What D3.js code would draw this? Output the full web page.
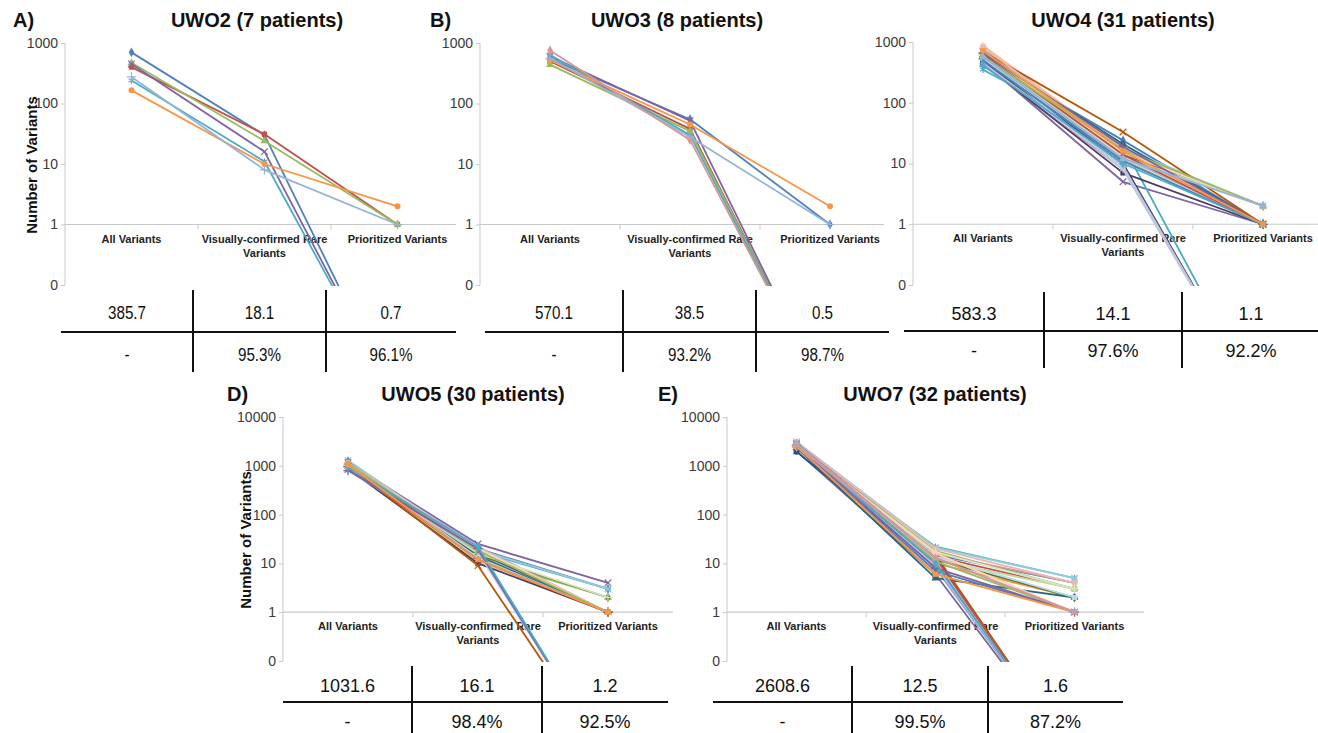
<!DOCTYPE html>
<html>
<head>
<meta charset="utf-8">
<script src="https://cdn.jsdelivr.net/npm/d3@7"></script>
<style>
  body { margin: 0; background: #fff; }
  svg { display: block; font-family: Arial, "Liberation Sans", sans-serif; }
</style>
</head>
<body>
<svg id="chart" width="1318" height="733"></svg>
<script>
// ---- data ----
var categories = [["All Variants"], ["Visually-confirmed Rare", "Variants"], ["Prioritized Variants"]];
var titles = ["UWO2 (7 patients)", "UWO3 (8 patients)", "UWO4 (31 patients)", "UWO5 (30 patients)", "UWO7 (32 patients)"];

// UWO2 - one value per patient for each filtering step
var allA = [700, 400, 470, 450, 240, 165, 275];
var vcA  = [30, 31, 24, 16, 11, 10, 8];
var prA  = [0, 1, 1, 0, 0, 2, 1];

// UWO3
var allB = [550, 500, 440, 600, 640, 520, 560, 751];
var vcB  = [55, 38, 35, 52, 30, 45, 28, 25];
var prB  = [1, 0, 0, 0, 0, 2, 1, 0];

// UWO4
var allC = [520, 480, 610, 462, 350, 560, 640, 700, 590, 420, 760, 880, 470, 530, 650, 440,
            610, 700, 560, 820, 600, 450, 540, 680, 500, 620, 580, 660, 410, 720, 570];
var vcC  = [24, 12, 15, 5, 20, 11, 9, 16, 13, 8, 18, 17, 10, 12, 14, 7,
            21, 33, 8, 16, 13, 9, 12, 15, 11, 14, 17, 19, 10, 16, 12];
var prC  = [1, 1, 2, 1, 0, 1, 0, 2, 1, 0, 2, 1, 0, 1, 2, 1,
            1, 1, 0, 2, 2, 0, 1, 2, 1, 1, 2, 1, 1, 1, 2];

// UWO5
var allD = [1250, 1200, 980, 1150, 1200, 950, 1080, 1020, 900, 1130, 1280, 1000, 1178, 970, 1110,
            880, 1040, 1000, 820, 1170, 930, 860, 1010, 1090, 840, 990, 1120, 800, 950, 1050];
var vcD  = [20, 15, 13, 25, 18, 12, 16, 14, 11, 22, 19, 12, 17, 13, 15,
            10, 14, 9, 18, 21, 16, 17, 13, 20, 19, 12, 18, 20, 22, 12];
var prD  = [3, 1, 2, 4, 3, 1, 1, 1, 1, 1, 3, 1, 1, 1, 2,
            1, 1, 0, 0, 1, 2, 0, 1, 1, 0, 1, 1, 0, 0, 1];

// UWO7
var allE = [2400, 2500, 2800, 2000, 2600, 2700, 2400, 2900, 2525, 2650, 3100, 2750, 1950, 2550, 2450, 2700,
            2350, 2850, 2500, 3050, 2600, 2450, 2800, 2700, 2400, 2900, 2550, 2650, 2750, 2500, 2850, 2600];
var vcE  = [15, 14, 18, 6, 22, 10, 8, 16, 12, 11, 21, 13, 9, 14, 12, 10,
            5, 15, 12, 20, 17, 9, 14, 16, 7, 13, 11, 8, 10, 6, 13, 13];
var prE  = [4, 3, 3, 0, 5, 2, 0, 4, 3, 0, 5, 2, 0, 0, 2, 0,
            2, 0, 0, 4, 3, 0, 2, 1, 1, 0, 1, 1, 0, 1, 1, 1];

// summary tables (mean count, reduction)
var meansA = ["385.7", "18.1", "0.7"],  reductA = ["-", "95.3%", "96.1%"];
var meansB = ["570.1", "38.5", "0.5"],  reductB = ["-", "93.2%", "98.7%"];
var meansC = ["583.3", "14.1", "1.1"],  reductC = ["-", "97.6%", "92.2%"];
var meansD = ["1031.6", "16.1", "1.2"], reductD = ["-", "98.4%", "92.5%"];
var meansE = ["2608.6", "12.5", "1.6"], reductE = ["-", "99.5%", "87.2%"];

// ---- styling / layout ----
var palette = ["#4F81BD", "#C0504D", "#9BBB59", "#8064A2", "#4BACC6", "#F79646",
               "#95B3D7", "#D99694", "#C3D69B", "#B3A2C7", "#93CDDD", "#FAC090",
               "#2C4D75", "#772C2A", "#5F7530", "#4D3B62", "#276A7C", "#B65708",
               "#B9CDE5", "#E6B9B8", "#D7E4BD", "#CCC1DA", "#B7DEE8", "#FCD5B5"];
var markers = [d3.symbolDiamond, d3.symbolSquare, d3.symbolTriangle, d3.symbolTimes || d3.symbolCross,
               d3.symbolAsterisk || d3.symbolStar, d3.symbolCircle, d3.symbolPlus || d3.symbolCross];
var strokeMarker = [false, false, false, true, true, false, true];
var ZERO_FLOOR = 0.001; // zeros on the log axis fall off the bottom of the plot

var panels = [
  {letter: "A)", letterX: 13, titleX: 257, baseY: 27, x0: 65, x1: 464, axisEnd: 456, yTop: 43, yBot: 285, maxV: 1000,
   yTitle: [31, 165], all: allA, vc: vcA, pr: prA,
   table: {means: meansA, reduct: reductA, edges: [61, 193, 326, 456], row1: 312, line: 332, row2: 354, vTop: 290, vBot: 372, narrow: true}},
  {letter: "B)", letterX: 430, titleX: 677, baseY: 27, x0: 480, x1: 900, axisEnd: 884, yTop: 43, yBot: 285, maxV: 1000,
   all: allB, vc: vcB, pr: prB,
   table: {means: meansB, reduct: reductB, edges: [485, 623, 756, 889], row1: 312, line: 332, row2: 354, vTop: 290, vBot: 372, narrow: true}},
  {letter: null, titleX: 1123, baseY: 27, x0: 913, x1: 1333, axisEnd: 1318, yTop: 42, yBot: 285, maxV: 1000,
   all: allC, vc: vcC, pr: prC,
   table: {means: meansC, reduct: reductC, edges: [904, 1044, 1182, 1320], row1: 313, line: 331, row2: 350, vTop: 292, vBot: 368}},
  {letter: "D)", letterX: 227, titleX: 473, baseY: 401, x0: 283, x1: 673, axisEnd: 673, yTop: 417, yBot: 661, maxV: 10000,
   yTitle: [245, 540], all: allD, vc: vcD, pr: prD,
   table: {means: meansD, reduct: reductD, edges: [283, 412, 542, 668], row1: 685, line: 702, row2: 721, vTop: 666, vBot: 733}},
  {letter: "E)", letterX: 658, titleX: 935, baseY: 401, x0: 727, x1: 1144, axisEnd: 1144, yTop: 417, yBot: 661, maxV: 10000,
   all: allE, vc: vcE, pr: prE,
   table: {means: meansE, reduct: reductE, edges: [713, 852, 988, 1123], row1: 685, line: 702, row2: 721, vTop: 666, vBot: 733}}
];

var svg = d3.select("#chart");

panels.forEach(function(p, pi) {
  var g = svg.append("g");
  var x = d3.scaleBand().domain([0, 1, 2]).range([p.x0, p.x1]).padding(0);
  var y = d3.scaleLog().domain([0.1, p.maxV]).range([p.yBot, p.yTop]);
  var bw = x.bandwidth();
  var ticks = p.maxV === 10000 ? [0.1, 1, 10, 100, 1000, 10000] : [0.1, 1, 10, 100, 1000];

  // letter + title
  if (p.letter) {
    g.append("text").attr("x", p.letterX).attr("y", p.baseY)
      .attr("font-size", 20).attr("font-weight", "bold").attr("fill", "#111").text(p.letter);
  }
  g.append("text").attr("x", p.titleX).attr("y", p.baseY).attr("text-anchor", "middle")
    .attr("font-size", 20).attr("font-weight", "bold").attr("fill", "#111").text(titles[pi]);

  // y axis
  var yAxis = d3.axisLeft(y).tickValues(ticks).tickSize(4).tickPadding(3)
    .tickFormat(function(d) { return d < 1 ? "0" : d3.format("d")(d); });
  var ya = g.append("g").attr("transform", "translate(" + p.x0 + ",0)").call(yAxis)
    .attr("font-size", 14).attr("font-family", "Arial, 'Liberation Sans', sans-serif");
  ya.select(".domain").attr("stroke", "#C8C8C8").attr("d", "M0," + p.yTop + "V" + p.yBot);
  ya.selectAll(".tick line").attr("stroke", "#C8C8C8");
  ya.selectAll(".tick text").attr("fill", "#3a3a3a");

  if (p.yTitle) {
    g.append("text").attr("transform", "translate(" + p.yTitle[0] + "," + p.yTitle[1] + ") rotate(-90)")
      .attr("text-anchor", "middle").attr("dominant-baseline", "central")
      .attr("font-size", 15).attr("font-weight", "bold").attr("fill", "#111").text("Number of Variants");
  }

  // horizontal category axis crossing at 1
  var y1 = y(1);
  g.append("line").attr("x1", p.x0).attr("x2", p.axisEnd).attr("y1", y1).attr("y2", y1)
    .attr("stroke", "#C8C8C8").attr("stroke-width", 1.2);
  [1, 2].forEach(function(i) {
    g.append("line").attr("x1", x(i)).attr("x2", x(i)).attr("y1", y1).attr("y2", y1 + 5)
      .attr("stroke", "#C8C8C8");
  });
  categories.forEach(function(lines, i) {
    var t = g.append("text").attr("text-anchor", "middle").attr("font-size", 11)
      .attr("font-weight", "bold").attr("fill", "#222");
    lines.forEach(function(s, k) {
      t.append("tspan").attr("x", x(i) + bw / 2).attr("y", y1 + 18 + k * 14).text(s);
    });
  });

  // series
  var clipId = "clip" + pi;
  svg.append("clipPath").attr("id", clipId).append("rect")
    .attr("x", p.x0).attr("y", p.yTop - 12).attr("width", p.x1 - p.x0).attr("height", p.yBot - p.yTop + 13);
  var plot = g.append("g").attr("clip-path", "url(#" + clipId + ")");
  var line = d3.line()
    .x(function(d) { return x(d[0]) + bw / 2; })
    .y(function(d) { return y(d[1] > 0 ? d[1] : ZERO_FLOOR); });

  p.all.forEach(function(v, s) {
    var pts = [[0, v], [1, p.vc[s]], [2, p.pr[s]]];
    var col = palette[s % palette.length];
    plot.append("path").datum(pts).attr("d", line).attr("fill", "none")
      .attr("stroke", col).attr("stroke-width", 1.8).attr("stroke-linejoin", "round");
    var mi = s % markers.length;
    pts.filter(function(d) { return d[1] > 0; }).forEach(function(d) {
      var m = plot.append("path")
        .attr("d", d3.symbol().type(markers[mi]).size(strokeMarker[mi] ? 30 : 28)())
        .attr("transform", "translate(" + (x(d[0]) + bw / 2) + "," + y(d[1]) + ")");
      if (strokeMarker[mi]) m.attr("fill", "none").attr("stroke", col).attr("stroke-width", 1.2);
      else m.attr("fill", col);
    });
  });

  // summary table
  var t = p.table;
  var sx = t.narrow ? 0.8 : 1;
  g.append("line").attr("x1", t.edges[0]).attr("x2", t.edges[3]).attr("y1", t.line).attr("y2", t.line)
    .attr("stroke", "#111").attr("stroke-width", 2);
  [1, 2].forEach(function(i) {
    g.append("line").attr("x1", t.edges[i]).attr("x2", t.edges[i]).attr("y1", t.vTop).attr("y2", t.vBot)
      .attr("stroke", "#111").attr("stroke-width", 2);
  });
  [t.means, t.reduct].forEach(function(row, r) {
    row.forEach(function(s, i) {
      var cx = (t.edges[i] + t.edges[i + 1]) / 2;
      var cy = (r === 0 ? t.row1 : t.row2) + 6.5;
      g.append("text")
        .attr("transform", "translate(" + cx + "," + cy + ") scale(" + sx + ",1)")
        .attr("text-anchor", "middle").attr("font-size", t.narrow ? 19 : 18)
        .attr("font-family", "Arial, 'Liberation Sans', sans-serif")
        .attr("fill", "#111").text(s);
    });
  });
});
</script>
</body>
</html>
